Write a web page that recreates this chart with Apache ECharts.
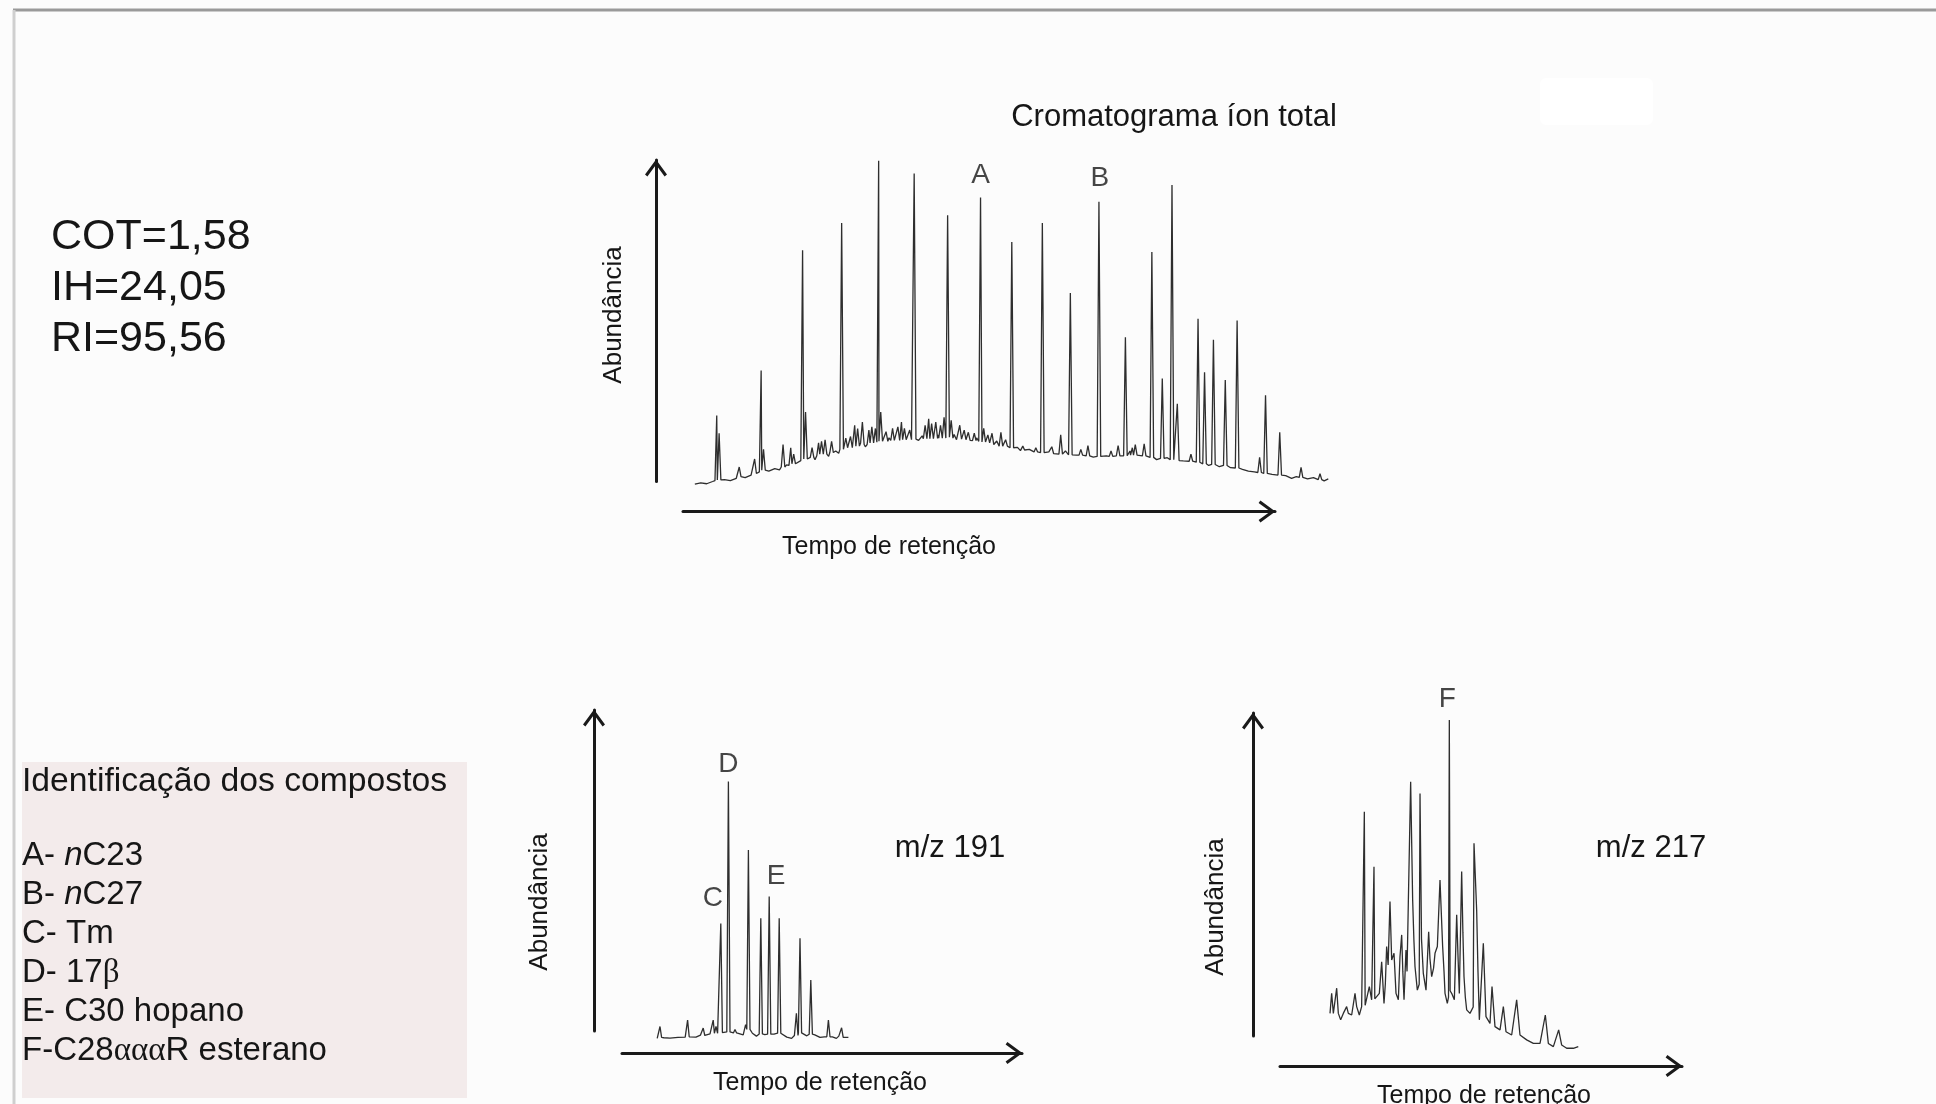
<!DOCTYPE html>
<html><head><meta charset="utf-8">
<script src="https://cdn.jsdelivr.net/npm/echarts@6/dist/echarts.min.js"></script>
<style>html,body{margin:0;padding:0;background:#fcfcfc;}#c{width:1936px;height:1104px;}</style>
</head><body><div id="c"></div>
<script>
// ---------- DATA ----------
// Total ion chromatogram: baseline / noise floor [time, abundance]
const ticBaseline = [[2.0,-0.8],[3.0,-0.4],[4.0,-0.7],[5.0,0.0],[7.0,0.6],[8.0,0.3],[9.0,1.0],[10.5,1.2],[11.5,2.0],[12.6,2.4],[14.5,3.2],[15.5,4.0],[16.3,3.6],[17.5,5.2],[19.3,5.5],[21.5,7.5],[22.3,6.8],[23.5,8.6],[24.6,7.8],[25.8,9.5],[26.3,8.8],[28.0,11.0],[28.8,10.2],[30.0,12.0],[30.8,10.8],[31.9,12.3],[34.0,12.0],[34.8,13.6],[36.0,12.4],[37.6,13.5],[39.8,12.8],[40.4,14.2],[41.5,12.9],[43.1,14.5],[44.0,13.0],[45.8,14.6],[46.2,13.0],[47.5,14.0],[49.0,12.5],[49.6,13.6],[51.5,12.0],[53.0,12.6],[54.5,11.0],[56.5,10.6],[57.0,9.6],[58.5,10.0],[60.0,9.0],[61.8,9.2],[62.8,8.4],[64.6,9.5],[66.5,8.2],[67.5,9.0],[69.3,7.6],[71.5,8.0],[72.5,7.4],[75.5,9.5],[76.9,8.0],[78.5,8.2],[80.0,6.8],[81.8,7.4],[84.5,6.4],[85.5,7.0],[86.3,5.8],[88.8,5.0],[90.6,4.6],[92.5,4.3],[94.5,3.8],[95.5,3.2],[96.5,3.0],[99.5,2.2],[101.8,1.8],[102.8,1.0],[103.6,1.5],[105.5,0.8],[106.5,1.2],[108.3,0.2],[109.0,0.8]];
// TIC peaks [time, foot abundance, apex abundance]
const ticPeaks = [[5.7,0.3,20.5],[6.1,0.5,15.0],[9.5,1.5,4.5],[12.1,2.5,7.0],[13.2,3.0,34.5],[13.6,3.5,10.0],[16.9,4.5,11.5],[18.2,5.0,10.5],[18.7,5.5,8.5],[20.2,6.5,71.9],[20.7,7.0,21.6],[21.8,7.5,10.5],[22.9,8.0,12.0],[23.4,8.5,12.5],[24.0,8.5,13.0],[25.1,9.0,12.5],[26.8,10.0,80.4],[27.5,10.5,13.5],[28.3,10.5,14.0],[29.0,11.0,17.5],[29.5,11.0,16.5],[30.3,11.5,18.5],[31.4,11.5,16.0],[31.9,12.0,17.0],[32.5,12.0,16.5],[33.05,12.2,99.8],[33.4,12.5,21.6],[34.3,12.5,15.5],[35.4,12.8,16.5],[36.3,12.8,17.0],[36.9,13.0,18.5],[37.4,13.0,16.5],[38.3,13.0,16.0],[39.05,13.2,95.8],[40.9,13.3,17.5],[41.5,13.3,19.5],[42.0,13.3,18.0],[42.7,13.4,18.5],[43.5,13.5,17.5],[44.1,13.5,20.0],[44.7,13.8,82.8],[45.3,13.5,19.0],[46.75,13.2,17.5],[47.5,13.0,16.0],[48.2,12.8,15.3],[49.2,12.7,15.0],[50.26,12.5,88.3],[50.8,12.3,16.5],[51.5,12.0,14.5],[52.2,11.5,15.0],[53.7,11.0,15.3],[54.5,11.0,13.0],[55.54,10.5,74.5],[57.4,9.8,11.0],[59.6,9.2,10.5],[60.7,9.0,80.4],[62.3,8.7,10.8],[63.8,8.5,14.5],[65.43,8.3,58.6],[67.2,8.2,10.0],[68.4,8.0,11.2],[70.26,7.8,87.0],[72.3,7.8,9.5],[73.5,8.0,11.2],[74.73,8.0,44.9],[75.9,8.2,10.5],[76.4,8.2,11.5],[77.9,8.0,11.7],[79.2,7.5,71.4],[80.96,7.2,32.0],[82.6,6.8,92.2],[83.5,6.5,24.2],[85.8,6.3,8.5],[87.0,6.0,50.6],[88.1,5.5,34.0],[89.6,5.3,44.1],[91.6,5.0,31.6],[93.6,4.2,50.1],[97.4,2.8,7.5],[98.4,2.5,26.8],[100.8,2.0,15.3],[104.4,1.3,4.4],[107.6,0.6,2.4]];
const ticMarks = [['A',50.26],['B',70.26]];

// m/z 191
const ms191Baseline = [[8.8,-2.3],[10.5,-2.1],[12.0,-2.2],[14.0,-2.0],[15.8,-1.9],[17.0,-1.8],[18.5,-1.9],[19.6,-1.3],[21.0,-1.6],[22.0,-0.9],[24.0,-0.9],[25.6,-0.4],[27.5,-0.5],[29.0,-1.0],[30.3,-1.2],[30.9,2.0],[32.6,-0.7],[33.6,-1.6],[35.7,-1.1],[38.0,-1.0],[40.2,-0.8],[41.2,-1.9],[42.4,-2.3],[43.1,-1.4],[45.4,-0.8],[46.2,-1.5],[48.2,-1.2],[49.5,-2.0],[50.6,-1.8],[52.6,-1.8],[53.6,-2.3],[54.2,-1.6],[55.7,-2.4],[56.6,-2.0]];
const ms191Peaks = [[9.5,-2.0,1.4],[16.4,-1.8,3.4],[20.3,-1.4,0.9],[22.8,-0.9,3.4],[23.5,-0.7,1.4],[24.7,-0.5,33.5],[26.6,-0.3,77.7],[28.25,-0.6,0.5],[31.6,0.5,56.4],[34.7,-0.9,35.1],[36.8,-1.0,41.9],[39.3,-0.7,35.1],[43.6,-1.4,5.5],[44.5,-0.6,28.9],[47.2,-1.0,15.9],[51.6,-1.8,3.4],[54.9,-2.0,1.0]];
const ms191Marks = [['C',24.7],['D',26.6],['E',36.8]];

// m/z 217 trace [time, abundance]
const ms217Trace = [[12.44,7.0],[12.85,13.2],[13.27,7.0],[14.1,14.8],[14.51,7.0],[15.09,5.0],[15.75,7.0],[16.58,9.1],[17.0,7.0],[17.83,6.5],[18.66,13.2],[19.07,9.1],[19.73,6.5],[20.31,9.1],[20.78,9.0],[20.98,69.4],[21.18,9.5],[21.56,10.1],[22.22,15.3],[22.8,11.2],[23.18,11.5],[23.38,52.4],[23.58,11.5],[24.05,11.2],[24.71,13.2],[25.29,23.0],[25.87,10.1],[26.2,16.0],[26.53,27.7],[26.9,22.0],[27.36,41.6],[27.78,23.5],[28.36,25.6],[28.86,13.2],[29.44,11.2],[29.85,24.6],[30.27,31.3],[30.55,20.0],[30.85,11.2],[31.34,26.6],[31.6,20.0],[31.92,41.1],[32.5,78.7],[33.0,42.1],[33.3,30.0],[33.58,21.5],[34.16,14.2],[34.63,16.0],[34.83,75.1],[35.2,30.0],[35.65,19.4],[36.32,14.2],[36.98,32.3],[37.3,24.0],[37.73,18.4],[38.2,21.0],[38.56,25.6],[39.14,27.7],[39.8,48.3],[40.46,27.7],[40.8,20.0],[41.05,13.2],[41.62,10.1],[41.92,12.0],[42.12,97.8],[42.32,14.0],[42.7,13.2],[43.37,11.2],[43.95,37.5],[44.3,24.0],[44.61,13.2],[45.19,50.9],[45.5,32.0],[45.77,18.4],[46.1,12.0],[46.44,8.1],[47.26,7.0],[48.06,9.0],[48.26,59.7],[48.92,39.0],[49.25,20.0],[49.59,5.0],[50.58,28.7],[51.24,6.0],[52.24,3.9],[52.74,15.3],[53.48,2.9],[54.73,1.9],[55.56,9.1],[56.22,1.3],[57.63,0.3],[58.87,11.2],[59.7,0.3],[61.36,-1.2],[63.02,-2.3],[64.68,-2.3],[66.0,6.5],[66.75,-2.3],[68.0,-3.3],[69.32,1.9],[70.07,-2.8],[71.31,-3.8],[72.97,-3.8],[74.2,-3.3]];
const ms217Marks = [['F',42.12]];

const geochemParams = ['COT=1,58','IH=24,05','RI=95,56'];
const panelTitle = 'Cromatograma íon total';
const axisNameY = 'Abundância';
const axisNameX = 'Tempo de retenção';
const ionLabels = ['m/z 191','m/z 217'];
const compoundHeader = 'Identificação dos compostos';
const compoundList = ['A- {i|n}C23','B- {i|n}C27','C- Tm','D- 17{g|β}','E- C30 hopano','F-C28{g|ααα}R esterano'];

// ---------- BUILD ----------
function buildTrace(base, peaks, hw) {
  const pts = base.filter(b => !peaks.some(p => Math.abs(p[0] - b[0]) < hw)).map(b => [b[0], b[1]]);
  peaks.forEach(p => { pts.push([p[0] - hw, p[1]], [p[0], p[2]], [p[0] + hw, p[1]]); });
  return pts.sort((a, b) => a[0] - b[0]);
}
function markPoints(marks, lookup, styles) {
  return marks.map((m, i) => {
    const hit = lookup.find(p => p[0] === m[1]);
    const top = hit.length === 3 ? hit[2] : hit[1];
    return { value: [m[1], top], name: m[0], label: Object.assign({ show: true, formatter: m[0], position: 'top' }, styles[i]) };
  });
}
const FONT = '"Liberation Sans", Arial, sans-serif';
const INK = '#161616';
const arrow = 'path://M11 0 L22 15 L19.6 16.8 L11 5.07 L2.4 16.8 L0 15 Z';
const axisLine = { show: true, onZero: false, lineStyle: { color: '#1a1a1a', width: 3 }, symbol: ['none', arrow], symbolSize: [22, 18], symbolOffset: [0, -8] };
// grids 0-2 carry the arrow axes; grid 3 carries the TIC trace (it runs past the arrow tip)
const grids = [
  { left: 683, top: 160, width: 592, height: 321.5 },
  { left: 622, top: 710, width: 400, height: 321 },
  { left: 1280, top: 713, width: 402, height: 323 },
  { left: 683, top: 160, width: 651.2, height: 321.5 }
];
const xOff = [30, 22, 30, 0], yOff = [27, 28, 27, 0];
const xMax = [100, 100, 100, 110];
const hidden = { axisTick: { show: false }, axisLabel: { show: false }, splitLine: { show: false } };

const ticData = buildTrace(ticBaseline, ticPeaks, 0.3);
const ms191Data = buildTrace(ms191Baseline, ms191Peaks, 0.4);

const lineSeries = (data, idx) => ({ type: 'line', xAxisIndex: idx, yAxisIndex: idx, data, symbol: 'none', clip: false, silent: true,
  lineStyle: { color: '#2e2e2e', width: 1.3 }, z: 3 });
const labelBase = { fontSize: 28, fontFamily: FONT, color: INK };
const labelSeries = (data, idx) => ({ type: 'scatter', xAxisIndex: idx, yAxisIndex: idx, data, symbolSize: 1, clip: false, silent: true,
  itemStyle: { color: 'rgba(0,0,0,0)' }, label: labelBase, z: 4 });

const txt = (x, y, text, size, extra) => ({ type: 'text', x, y, rotation: (extra && extra.rotation) || 0, z: 10,
  style: Object.assign({ text, x: 0, y: 0, fill: INK, font: size + 'px ' + FONT, align: 'center', verticalAlign: 'middle' }, (extra && extra.style) || {}) });

const graphics = [
  { type: 'line', shape: { x1: 13, y1: 10, x2: 1936, y2: 10 }, style: { stroke: '#9a9a9a', lineWidth: 3 }, z: 1 },
  { type: 'line', shape: { x1: 14, y1: 10, x2: 14, y2: 1104 }, style: { stroke: '#cfcfcf', lineWidth: 3 }, z: 1 },
  { type: 'rect', shape: { x: 1540, y: 78, width: 113, height: 47, r: 6 }, style: { fill: '#ffffff' }, z: 0 },
  { type: 'rect', shape: { x: 22, y: 762, width: 445, height: 336 }, style: { fill: '#f3ebeb' }, z: 0 },
  txt(1174, 117, panelTitle, 31),
  txt(614, 315, axisNameY, 26, { rotation: Math.PI / 2 }),
  txt(540, 902, axisNameY, 26, { rotation: Math.PI / 2 }),
  txt(1216, 907, axisNameY, 26, { rotation: Math.PI / 2 }),
  txt(889, 547, axisNameX, 25),
  txt(820, 1083, axisNameX, 25),
  txt(1484, 1096, axisNameX, 25),
  txt(950, 848, ionLabels[0], 31),
  txt(1651, 848, ionLabels[1], 31),
  txt(22, 782, compoundHeader, 33.7, { style: { align: 'left' } })
];
geochemParams.forEach((t, i) => graphics.push(txt(51, 237.5 + i * 50.6, t, 43, { style: { align: 'left' } })));
compoundList.forEach((t, i) => graphics.push(txt(22, 856 + i * 39, t, 33, { style: { align: 'left',
  rich: { i: { font: 'italic 33px ' + FONT, fill: INK }, g: { font: '33px "Liberation Serif", "DejaVu Serif", serif', fill: INK } } } })));

const option = {
  backgroundColor: '#fcfcfc',
  animation: false,
  grid: grids,
  xAxis: grids.map((g, i) => Object.assign({ gridIndex: i, type: 'value', min: 0, max: xMax[i], offset: xOff[i],
    axisLine: i === 3 ? { show: false } : axisLine }, hidden)),
  yAxis: grids.map((g, i) => Object.assign({ gridIndex: i, type: 'value', min: 0, max: 100, offset: yOff[i],
    axisLine: i === 3 ? { show: false } : axisLine }, hidden)),
  series: [
    lineSeries(ticData, 3),
    lineSeries(ms191Data, 1),
    lineSeries(ms217Trace, 2),
    labelSeries(markPoints(ticMarks, ticPeaks, [{ distance: 8 }, { distance: 9, offset: [1, 0] }]), 3),
    labelSeries(markPoints(ms191Marks, ms191Peaks, [{ distance: 11, offset: [-8, 0] }, { distance: 3 }, { distance: 6, offset: [7, 0] }]), 1),
    labelSeries(markPoints(ms217Marks, ms217Trace, [{ distance: 6, offset: [-2, 0] }]), 2)
  ],
  graphic: graphics
};
const chart = echarts.init(document.getElementById('c'), null, { renderer: 'canvas' });
chart.setOption(option);
</script></body></html>
